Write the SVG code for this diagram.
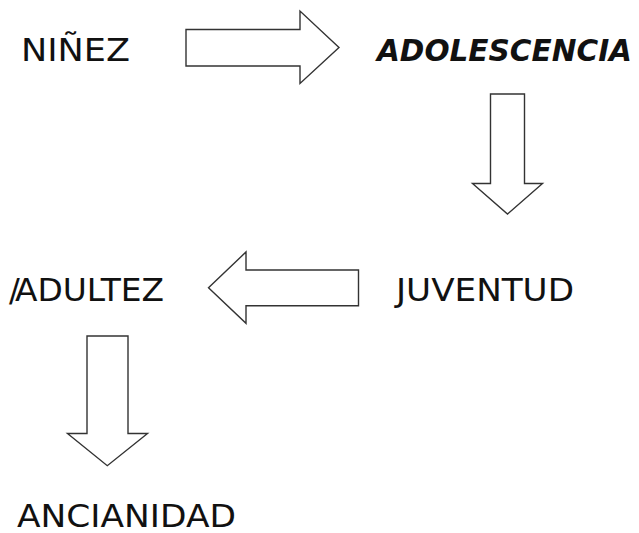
<svg xmlns="http://www.w3.org/2000/svg" width="639" height="533" viewBox="0 0 639 533">
<style>
.lbl{font-family:"DejaVu Sans","Liberation Sans",sans-serif;font-size:32px;fill:#111;}
.bi{font-weight:bold;font-style:italic;font-size:31px;}
.arr{fill:#fff;stroke:#333;stroke-width:1.4;stroke-linejoin:miter;}
</style>
<rect width="639" height="533" fill="#fff"/>
<g id="ninez"><text class="lbl" x="21" y="61" textLength="109" lengthAdjust="spacingAndGlyphs">NIÑEZ</text></g>
<g id="adolescencia"><text class="lbl bi" x="377" y="61" textLength="255" lengthAdjust="spacingAndGlyphs">ADOLESCENCIA</text></g>
<g id="juventud"><text class="lbl" x="396" y="301" textLength="178" lengthAdjust="spacingAndGlyphs">JUVENTUD</text></g>
<g id="adultez"><text class="lbl" y="301"><tspan x="9">/</tspan><tspan x="15" textLength="149" lengthAdjust="spacingAndGlyphs">ADULTEZ</tspan></text></g>
<g id="ancianidad"><text class="lbl" x="17" y="527" textLength="219" lengthAdjust="spacingAndGlyphs">ANCIANIDAD</text></g>
<g id="connectors">
<polygon class="arr" points="186,29.5 300,29.5 300,11 339,47.5 300,83.5 300,66 186,66"/>
<polygon class="arr" points="490.5,94 524.5,94 524.5,183.5 542.5,183.5 507.5,214 472.5,183.5 490.5,183.5"/>
<polygon class="arr" points="358.5,270 246,270 246,252 208.5,287.7 246,323.3 246,305.7 358.5,305.7"/>
<polygon class="arr" points="87,336 128,336 128,433.5 147.5,433.5 107.3,465.7 67.5,433.5 87,433.5"/>
</g>
</svg>
